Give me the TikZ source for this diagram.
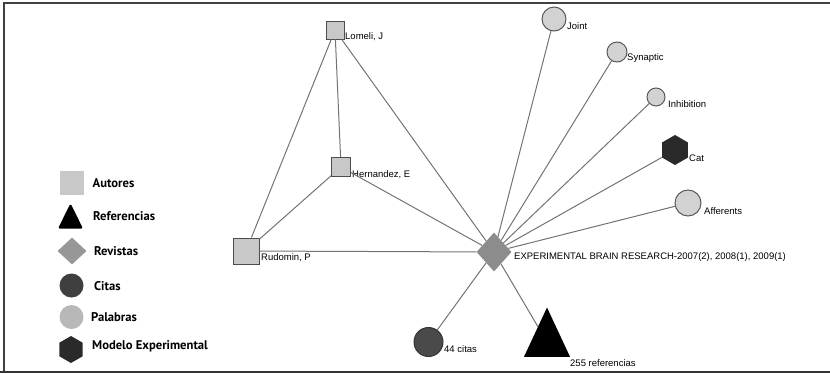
\documentclass[tikz,border=0pt]{standalone}
\usepackage{fontspec}
\setmainfont{Liberation Sans}
\newfontfamily\legendfont{PT Sans}
\usetikzlibrary{shapes.geometric}

\definecolor{autgray}{HTML}{C8C8C8}
\definecolor{jourgray}{HTML}{8C8C8C}
\definecolor{wordgray}{HTML}{D2D2D2}
\definecolor{citegray}{HTML}{4A4A4A}
\definecolor{modelgray}{HTML}{2A2A2A}

\begin{document}
\begin{tikzpicture}[x=1bp, y=-1bp,
author/.style={rectangle, draw=black!70, fill=autgray, line width=0.9bp, inner sep=0, minimum size=#1},
journal/.style={diamond, fill=jourgray, inner sep=0, minimum width=35bp, minimum height=39bp},
word/.style={circle, draw=black!65, fill=wordgray, line width=1bp, inner sep=0, minimum size=#1},
cites/.style={circle, draw=black!80, fill=citegray, line width=1bp, inner sep=0, minimum size=#1},
model/.style={regular polygon, regular polygon sides=6, shape border rotate=30, fill=modelgray, inner sep=0, minimum size=#1},
refs/.style={isosceles triangle, isosceles triangle apex angle=50, shape border rotate=90, fill=black, inner sep=0, minimum size=#1},
lbl/.style={font=\fontsize{9.5bp}{11bp}\selectfont, anchor=west, inner sep=0},
link/.style={draw=black!55, line width=1bp},
leg/.style={font=\legendfont\bfseries\fontsize{12.6bp}{14bp}\selectfont, anchor=west, inner sep=0}]
\useasboundingbox (0,0) rectangle (830,373);

% frame
\draw[black!75, line width=1.8bp] (3.7,373) -- (3.7,3) -- (830,3);
\draw[black!80, line width=2bp] (0,371.5) -- (830,371.5);

% legend
\node[author=24bp, draw=none] (legaut) at (71.5,182.5) {};
\node[refs=25bp, isosceles triangle apex angle=53, rounded corners=1.5bp, anchor=apex] (legref) at (70.5,203) {};
\node[journal, minimum width=29bp, minimum height=27bp, fill=jourgray!90] (legjour) at (72,251) {};
\node[cites=24bp, draw=none, fill=citegray!85!black] (legcite) at (71.5,285.5) {};
\node[word=24bp, draw=none, fill=black!28] (legword) at (71.5,317) {};
\node[model=27bp] (legmodel) at (71,349.5) {};
\node[leg] (legaut-t) at (92.5,183) {Autores};
\node[leg] (legref-t) at (93,216) {Referencias};
\node[leg] (legjour-t) at (94,251) {Revistas};
\node[leg] (legcite-t) at (94,286) {Citas};
\node[leg] (legword-t) at (91,317) {Palabras};
\node[leg] (legmodel-t) at (92,346) {Modelo Experimental};

% network
\node[author=18bp] (lomeli) at (335,30) {};
\node[author=19bp] (hernandez) at (341,167) {};
\node[author=26bp] (rudomin) at (246,251) {};
\node[journal] (ebr) at (494,252) {};
\node[word=24bp] (joint) at (554,19) {};
\node[word=20bp] (synaptic) at (617,52) {};
\node[word=18bp] (inhibition) at (656,97) {};
\node[model=30bp] (cat) at (675,150) {};
\node[word=26bp] (afferents) at (688,203) {};
\node[cites=29bp] (citas) at (428.5,342) {};
\node[refs=46bp, anchor=apex] (refs) at (547,307) {};

\node[lbl] (lomeli-t) at (345,37) {Lomeli, J};
\node[lbl] (hernandez-t) at (352,175) {Hernandez, E};
\node[lbl] (rudomin-t) at (261,258) {Rudomin, P};
\node[lbl] (ebr-t) at (514,257) {EXPERIMENTAL BRAIN RESEARCH-2007(2), 2008(1), 2009(1)};
\node[lbl] (joint-t) at (567,26) {Joint};
\node[lbl] (synaptic-t) at (627,58) {Synaptic};
\node[lbl] (inhibition-t) at (668,104) {Inhibition};
\node[lbl] (cat-t) at (689,158) {Cat};
\node[lbl] (afferents-t) at (704,211) {Afferents};
\node[lbl] (citas-t) at (444,349) {44 citas};
\node[lbl] (refs-t) at (570,363) {255 referencias};

\draw[link] (lomeli) -- (rudomin);
\draw[link] (lomeli) -- (hernandez);
\draw[link] (lomeli) -- (ebr);
\draw[link] (hernandez) -- (rudomin);
\draw[link] (hernandez) -- (ebr);
\draw[link] (rudomin) -- (ebr);
\foreach \n in {joint,synaptic,inhibition,cat,afferents,citas,refs}
  \draw[link] (ebr) -- (\n);
\end{tikzpicture}
\end{document}
